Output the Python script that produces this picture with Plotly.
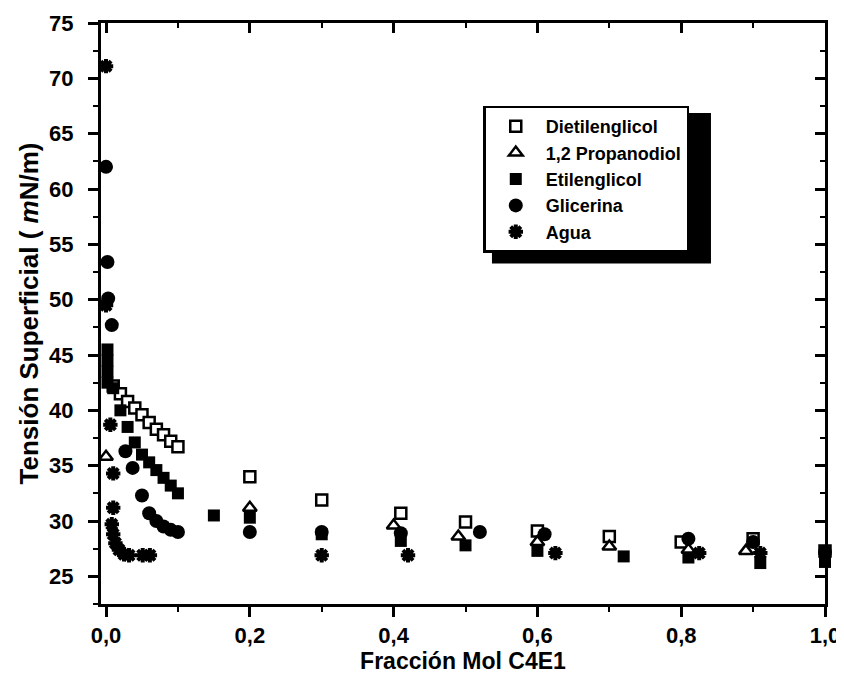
import plotly.graph_objects as go

# ---- data ----
x_dietil = [0.01, 0.02, 0.03, 0.04, 0.05, 0.06, 0.07, 0.08, 0.09, 0.10, 0.20, 0.30, 0.41, 0.50, 0.60, 0.70, 0.80, 0.90, 1.00]
y_dietil = [42.2, 41.5, 40.8, 40.2, 39.6, 38.9, 38.3, 37.8, 37.2, 36.7, 34.0, 31.9, 30.7, 29.9, 29.1, 28.6, 28.1, 28.4, 27.3]

x_prop = [0.0, 0.20, 0.40, 0.49, 0.60, 0.70, 0.81, 0.89]
y_prop = [35.8, 31.2, 29.6, 28.6, 28.1, 27.7, 27.4, 27.3]

x_etil = [0.002, 0.002, 0.002, 0.002, 0.01, 0.02, 0.03, 0.04, 0.05, 0.06, 0.07, 0.08, 0.09, 0.10,
          0.15, 0.20, 0.30, 0.41, 0.50, 0.60, 0.72, 0.81, 0.91, 1.00]
y_etil = [45.5, 44.5, 43.5, 42.5, 42.0, 40.0, 38.5, 37.1, 36.0, 35.3, 34.6, 33.9, 33.2, 32.5,
          30.5, 30.3, 28.8, 28.2, 27.8, 27.3, 26.8, 26.7, 26.2, 26.3]

x_glic = [0.0, 0.002, 0.003, 0.008, 0.027, 0.037, 0.05, 0.06, 0.07, 0.08, 0.09, 0.10,
          0.20, 0.30, 0.41, 0.52, 0.61, 0.81, 0.90, 1.00]
y_glic = [62.0, 53.4, 50.1, 47.7, 36.3, 34.8, 32.3, 30.7, 30.0, 29.5, 29.2, 29.0,
          29.0, 29.0, 28.9, 29.0, 28.8, 28.4, 28.1, 27.2]

x_agua = [0.0, 0.0, 0.006, 0.01, 0.01, 0.008, 0.01, 0.013, 0.018, 0.025, 0.032, 0.051, 0.061,
          0.30, 0.42, 0.625, 0.825, 0.91]
y_agua = [71.1, 49.5, 38.7, 34.3, 31.2, 29.7, 28.8, 28.0, 27.4, 27.0, 26.9, 26.9, 26.9,
          26.9, 26.9, 27.1, 27.1, 27.1]

x_tickvals = [0.0, 0.2, 0.4, 0.6, 0.8, 1.0]
x_ticktext = ["0,0", "0,2", "0,4", "0,6", "0,8", "1,0"]
y_tickvals = [25, 30, 35, 40, 45, 50, 55, 60, 65, 70, 75]

XR = [-0.007, 1.0]
YR = [22.5, 75]

FONT = "Liberation Sans, Arial, sans-serif"

fig = go.Figure()

def add(name, xs, ys, symbol, size, open_=False, lw=None):
    fig.add_trace(go.Scatter(
        x=xs, y=ys, mode="markers", name=name, cliponaxis=False,
        marker=dict(symbol=symbol, size=size,
                    color="white" if open_ else "black",
                    line=dict(color="black", width=lw if lw is not None else (2.5 if open_ else 0))),
    ))

add("Dietilenglicol", x_dietil, y_dietil, "square", 11, open_=True)
add("1,2 Propanodiol", x_prop, y_prop, "triangle-up", 12, open_=True)
add("Etilenglicol", x_etil, y_etil, "square", 12)
add("Glicerina", x_glic, y_glic, "circle", 14)
add("Agua", x_agua, y_agua, "asterisk-open", 12, lw=4)

# invisible trace to hold the mirrored (top/right) axes
fig.add_trace(go.Scatter(x=[None], y=[None], xaxis="x2", yaxis="y2",
                         showlegend=False, hoverinfo="skip"))

tickfont = dict(family=FONT, size=22, color="black", weight="bold")

fig.update_layout(
    width=844, height=677,
    margin=dict(l=93, r=27, t=14.5, b=81),
    paper_bgcolor="white", plot_bgcolor="white",
    showlegend=True,
    legend=dict(
        x=0.528, y=0.858, xanchor="left", yanchor="top",
        bgcolor="white", bordercolor="black", borderwidth=2.5,
        font=dict(family=FONT, size=18, color="black", weight="bold"),
        itemwidth=50, entrywidth=168, entrywidthmode="pixels",
    ),
    xaxis=dict(
        range=XR, tickvals=x_tickvals, ticktext=x_ticktext, automargin=False,
        ticks="outside", ticklen=10, tickwidth=2.5, tickcolor="black",
        minor=dict(dtick=0.1, tick0=0, ticks="outside", ticklen=5, tickwidth=2, tickcolor="black"),
        showline=True, linecolor="black", linewidth=3, showgrid=False, zeroline=False,
        tickfont=tickfont, ticklabelstandoff=0,
        title=dict(text="Fracción Mol C4E1", font=dict(family=FONT, size=23, color="black", weight="bold"), standoff=3),
    ),
    yaxis=dict(
        range=YR, tickvals=y_tickvals, automargin=False,
        ticks="outside", ticklen=10, tickwidth=2.5, tickcolor="black",
        minor=dict(dtick=2.5, tick0=0, ticks="outside", ticklen=5, tickwidth=2, tickcolor="black"),
        showline=True, linecolor="black", linewidth=3, showgrid=False, zeroline=False,
        tickfont=tickfont, ticklabelstandoff=10,
        title=dict(text="Tensión Superficial ( <i>m</i>N/m)", font=dict(family=FONT, size=26, color="black", weight="bold"), standoff=4),
    ),
    xaxis2=dict(
        overlaying="x", side="top", anchor="y2", range=XR, tickvals=x_tickvals, automargin=False,
        showticklabels=False, ticks="inside", ticklen=10, tickwidth=2.5, tickcolor="black",
        minor=dict(dtick=0.1, tick0=0, ticks="inside", ticklen=5, tickwidth=2, tickcolor="black"),
        showline=True, linecolor="black", linewidth=3, showgrid=False, zeroline=False,
    ),
    yaxis2=dict(
        overlaying="y", side="right", anchor="x2", range=YR, tickvals=y_tickvals, automargin=False,
        showticklabels=False, ticks="inside", ticklen=10, tickwidth=2.5, tickcolor="black",
        minor=dict(dtick=2.5, tick0=0, ticks="inside", ticklen=5, tickwidth=2, tickcolor="black"),
        showline=True, linecolor="black", linewidth=3, showgrid=False, zeroline=False,
    ),
    shapes=[
        # legend drop shadow
        dict(type="rect", xref="paper", yref="paper", layer="above",
             x0=0.540, x1=0.8425, y0=0.586, y1=0.845,
             fillcolor="black", line=dict(width=0)),
    ],
)

fig.write_html("out.html")
